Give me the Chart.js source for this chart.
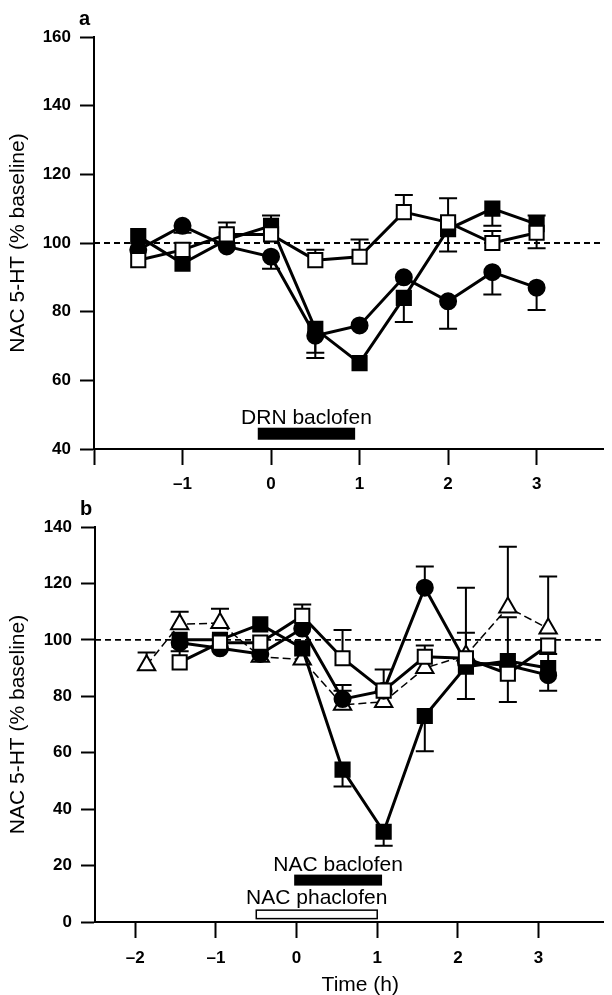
<!DOCTYPE html>
<html>
<head>
<meta charset="utf-8">
<script src="https://cdn.jsdelivr.net/npm/chart.js@4.4.0/dist/chart.umd.min.js"></script>
<style>
  html, body { margin: 0; padding: 0; background: #fff; overflow: hidden; width: 612px; height: 995px; }
  .panel { position: absolute; left: 0; }
  #panelA { top: 0; }
  #panelB { top: 497px; }
</style>
</head>
<body>
<div class="panel" id="panelA"><canvas id="chartA" width="615" height="497"></canvas></div>
<div class="panel" id="panelB"><canvas id="chartB" width="615" height="498"></canvas></div>
<script>
// Panel a : perfusion de baclofène dans le DRN
var timesA = [-1.5, -1, -0.5, 0, 0.5, 1, 1.5, 2, 2.5, 3];
var aFilledSquare = [102, 94, 101, 105, 75, 65, 84, 104, 110, 105.5];
var aFilledCircle = [98, 105, 99, 96, 73, 76, 90, 83, 91.5, 87];
var aOpenSquare = [95, 98, 102.5, 102.5, 95, 96, 109, 106, 100, 103];
// s.e.mean : signe = sens de la barre (+ vers le haut, - vers le bas)
var aFilledSquareErr = [null, null, 5, 3, -7, null, -7, -6.5, -5, 2.5];
var aFilledCircleErr = [null, -2, null, -3.5, -6.5, null, null, -8, -6.5, -6.5];
var aOpenSquareErr = [null, 2, null, null, 3, 5, 5, 7, 3.5, -4.5];
var aTicksX = [-2, -1, 0, 1, 2, 3];
var aTickLabelsX = ['', '\u20131', '0', '1', '2', '3'];
var aTicksY = [40, 60, 80, 100, 120, 140, 160];
var drnBaclofen = [-0.15, 0.95];

// Panel b : baclofène / phaclofène dans le NAC
var timesB = [-1.45, -0.95, -0.45, 0.07, 0.57, 1.08, 1.59, 2.1, 2.62, 3.12];
var timesBTriangle = [-1.86, -1.45, -0.95, -0.45, 0.07, 0.57, 1.08, 1.59, 2.1, 2.62, 3.12];
var bFilledSquare = [100, 100, 105.5, 97, 54, 32, 73, 90.5, 92.5, 90];
var bFilledCircle = [99, 97, 95, 104, 79, 82, 118.5, 92, 91, 87.5];
var bOpenSquare = [92, 99, 99, 108.5, 93.5, 82, 94, 93.5, 88, 98];
var bTriangle = [91, 105.5, 106, 94, 93, 77, 78, 90, 94.5, 111.5, 104];
var bFilledSquareErr = [null, null, null, null, -6, -5, -12.5, -11.5, 15.5, 5];
var bFilledCircleErr = [null, null, null, null, 5, null, 7.5, null, null, -5.5];
var bOpenSquareErr = [4, null, null, 4, 10, 7.5, 4, 9, -10, null];
var bTriangleErr = [4.5, 4.5, 5, null, null, 5, null, null, 24, 21.5, 18.5];
var bTicksX = [-2, -1, 0, 1, 2, 3];
var bTickLabelsX = ['\u20132', '\u20131', '0', '1', '2', '3'];
var bTicksY = [0, 20, 40, 60, 80, 100, 120, 140];
var nacBaclofen = [-0.03, 1.06];
var nacPhaclofen = [-0.5, 1.0];

var baseline = 100;

Chart.defaults.font.family = '"Liberation Sans", Arial, Helvetica, sans-serif';
Chart.defaults.color = '#000';
Chart.defaults.animation = false;

function pts(xs, ys) {
    return xs.map(function (x, i) { return {x: x, y: ys[i]}; });
}

function serie(xs, ys, errs, style) {
    var ds = {
        data: pts(xs, ys),
        errors: errs,
        showLine: true,
        borderColor: '#000',
        borderWidth: 3,
        pointStyle: 'rect',
        pointRadius: 10,
        pointBorderWidth: 2,
        pointBorderColor: '#000',
        pointBackgroundColor: '#000'
    };
    return Object.assign(ds, style);
}

function baselineLine(xmin, xmax) {
    return {
        data: [{x: xmin, y: baseline}, {x: xmax, y: baseline}],
        showLine: true,
        borderColor: '#000',
        borderWidth: 1.8,
        borderDash: [6, 4],
        pointRadius: 0
    };
}

// barres d'erreur (un seul côté, comme sur la figure)
var errorBarsPlugin = {
    id: 'errorBars',
    beforeDatasetsDraw: function (chart) {
        var ctx = chart.ctx, ys = chart.scales.y;
        ctx.save();
        ctx.strokeStyle = '#000';
        ctx.lineWidth = 2;
        chart.data.datasets.forEach(function (ds, i) {
            if (!ds.errors) return;
            var meta = chart.getDatasetMeta(i);
            ds.errors.forEach(function (e, j) {
                if (e == null) return;
                var p = meta.data[j];
                var yEnd = ys.getPixelForValue(ds.data[j].y + e);
                ctx.beginPath();
                ctx.moveTo(p.x, p.y);
                ctx.lineTo(p.x, yEnd);
                ctx.moveTo(p.x - 9, yEnd);
                ctx.lineTo(p.x + 9, yEnd);
                ctx.stroke();
            });
        });
        ctx.restore();
    }
};

// barres de traitement, textes, lettre du panneau
var extrasPlugin = {
    id: 'extras',
    afterDraw: function (chart, args, opts) {
        var ctx = chart.ctx, xs = chart.scales.x, ys = chart.scales.y, area = chart.chartArea;
        ctx.save();
        (opts.bars || []).forEach(function (b) {
            var x0 = xs.getPixelForValue(b.period[0]), x1 = xs.getPixelForValue(b.period[1]);
            var y0 = ys.getPixelForValue(b.level[1]), y1 = ys.getPixelForValue(b.level[0]);
            ctx.fillStyle = b.fill;
            ctx.fillRect(x0, y0, x1 - x0, y1 - y0);
            if (b.stroke) {
                ctx.lineWidth = 1.5;
                ctx.strokeStyle = '#000';
                ctx.strokeRect(x0, y0, x1 - x0, y1 - y0);
            }
        });
        ctx.fillStyle = '#000';
        ctx.textBaseline = 'alphabetic';
        (opts.texts || []).forEach(function (t) {
            ctx.font = (t.bold ? 'bold ' : '') + t.size + 'px "Liberation Sans", Arial, sans-serif';
            ctx.textAlign = t.align || 'center';
            var x = t.px != null ? area.left + t.px : xs.getPixelForValue(t.x);
            var y = t.py != null ? (t.fromBottom ? area.bottom + t.py : area.top + t.py) : ys.getPixelForValue(t.y);
            ctx.fillText(t.text, x, y);
        });
        ctx.restore();
    }
};

function makeOptions(p) {
    return {
        responsive: false,
        devicePixelRatio: 1,
        layout: {padding: {top: p.top, left: 0, right: 0, bottom: 0}},
        plugins: {
            legend: {display: false},
            tooltip: {enabled: false},
            extras: p.extras
        },
        scales: {
            x: {
                type: 'linear',
                min: p.xmin,
                max: p.xmax,
                afterBuildTicks: function (s) { s.ticks = p.ticksX.map(function (v) { return {value: v}; }); },
                afterFit: function (s) { s.height = p.xHeight; },
                ticks: {
                    autoSkip: false,
                    maxRotation: 0,
                    padding: p.xPad,
                    font: {size: 17, weight: 'bold'},
                    color: '#000',
                    callback: function (v, i) { return p.labelsX[i]; }
                },
                grid: {drawOnChartArea: false, drawTicks: true, tickLength: 16, tickWidth: 2, tickColor: '#000'},
                border: {display: true, color: '#000', width: 2}
            },
            y: {
                type: 'linear',
                min: p.ticksY[0],
                max: p.ticksY[p.ticksY.length - 1],
                afterBuildTicks: function (s) { s.ticks = p.ticksY.map(function (v) { return {value: v}; }); },
                afterFit: function (s) { s.width = p.yWidth; },
                ticks: {padding: 9, font: {size: 17, weight: 'bold'}, color: '#000'},
                grid: {drawOnChartArea: false, drawTicks: true, tickLength: 14, tickWidth: 2, tickColor: '#000'},
                border: {display: true, color: '#000', width: 2},
                title: {
                    display: true,
                    text: 'NAC 5-HT (% baseline)',
                    font: {size: 21},
                    color: '#000',
                    padding: {top: 6, bottom: 0}
                }
            }
        }
    };
}

var filledSq = {pointStyle: 'rect', pointRadius: 10, pointBackgroundColor: '#000'};
var filledCi = {pointStyle: 'circle', pointRadius: 8, pointBackgroundColor: '#000'};
var openSq = {pointStyle: 'rect', pointRadius: 10, pointBackgroundColor: '#fff'};
var openTri = {pointStyle: 'triangle', pointRadius: 10, pointBackgroundColor: '#fff',
               borderWidth: 1.5, borderDash: [8, 4]};

new Chart(document.getElementById('chartA'), {
    type: 'scatter',
    data: {
        datasets: [
            serie(timesA, aOpenSquare, aOpenSquareErr, openSq),
            serie(timesA, aFilledSquare, aFilledSquareErr, filledSq),
            serie(timesA, aFilledCircle, aFilledCircleErr, filledCi),
            baselineLine(-2, 3.75)
        ]
    },
    options: makeOptions({
        top: 37, xmin: -2, xmax: 3.75, xHeight: 48, xPad: 9, yWidth: 94,
        ticksX: aTicksX, labelsX: aTickLabelsX, ticksY: aTicksY,
        extras: {
            bars: [{period: drnBaclofen, level: [42.7, 46.2], fill: '#000'}],
            texts: [
                {text: 'DRN baclofen', size: 21, x: (drnBaclofen[0] + drnBaclofen[1]) / 2, y: 47.3},
                {text: 'a', size: 20, bold: true, align: 'left', px: -15, py: -12}
            ]
        }
    }),
    plugins: [errorBarsPlugin, extrasPlugin]
});

new Chart(document.getElementById('chartB'), {
    type: 'scatter',
    data: {
        datasets: [
            serie(timesB, bOpenSquare, bOpenSquareErr, openSq),
            serie(timesB, bFilledCircle, bFilledCircleErr, filledCi),
            serie(timesB, bFilledSquare, bFilledSquareErr, filledSq),
            serie(timesBTriangle, bTriangle, bTriangleErr, openTri),
            baselineLine(-2.5, 3.8)
        ]
    },
    options: makeOptions({
        top: 30, xmin: -2.5, xmax: 3.8, xHeight: 73, xPad: 10, yWidth: 95,
        ticksX: bTicksX, labelsX: bTickLabelsX, ticksY: bTicksY,
        extras: {
            bars: [
                {period: nacBaclofen, level: [12.9, 16.8], fill: '#000'},
                {period: nacPhaclofen, level: [1.2, 4.2], fill: '#fff', stroke: true}
            ],
            texts: [
                {text: 'NAC baclofen', size: 21, x: (nacBaclofen[0] + nacBaclofen[1]) / 2, y: 18},
                {text: 'NAC phaclofen', size: 21, x: (nacPhaclofen[0] + nacPhaclofen[1]) / 2, y: 6.5},
                {text: 'Time (h)', size: 21, x: 0.79, py: 69, fromBottom: true},
                {text: 'b', size: 20, bold: true, align: 'left', px: -15, py: -12}
            ]
        }
    }),
    plugins: [errorBarsPlugin, extrasPlugin]
});
</script>
</body>
</html>
